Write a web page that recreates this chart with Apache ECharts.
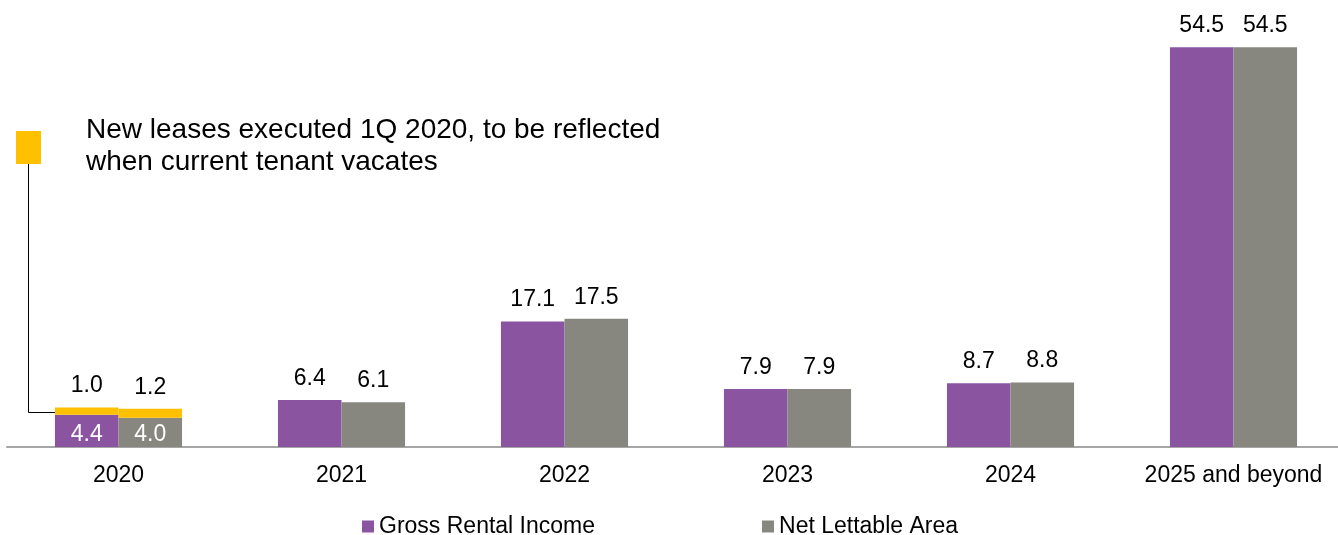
<!DOCTYPE html>
<html>
<head>
<meta charset="utf-8">
<script src="https://cdn.jsdelivr.net/npm/echarts@6/dist/echarts.min.js"></script>
<style>
html, body { margin: 0; padding: 0; background: #fff; }
#chart { width: 1338px; height: 535px; }
</style>
</head>
<body>
<div id="chart"></div>
<script>
var chart = echarts.init(document.getElementById('chart'));

var categories = ['2020', '2021', '2022', '2023', '2024', '2025 and beyond'];
var grossRental = [4.4, 6.4, 17.1, 7.9, 8.7, 54.5];
var netLettable = [4.0, 6.1, 17.5, 7.9, 8.8, 54.5];
// new leases executed 1Q 2020 (only 2020)
var newGross = [1.0, '-', '-', '-', '-', '-'];
var newNet = [1.2, '-', '-', '-', '-', '-'];

var PURPLE = '#8B54A1';
var GREY = '#878780';
var YELLOW = '#FFC000';
var FONT = 'Liberation Sans, Arial, sans-serif';

// base series: first item (2020) has its label inside, white
function baseData(arr) {
	return arr.map(function(v, i) {
		if(i === 0) {
			return {
				value: v,
				label: { position: 'insideBottom', distance: 1, color: '#fff' }
			};
		}
		return v;
	});
}

var topLabel = {
	show: true,
	position: 'top',
	distance: 10,
	color: '#000',
	fontSize: 23,
	fontFamily: FONT,
	formatter: function(p) { return p.value.toFixed(1); }
};

var option = {
	backgroundColor: '#fff',
	animation: false,
	grid: {
		left: 7,
		right: -7,
		top: 7,
		bottom: 88,
		outerBoundsMode: 'none'
	},
	legend: {
		data: ['Gross Rental Income', 'Net Lettable Area'],
		left: 357,
		top: 510,
		itemWidth: 12,
		itemHeight: 12,
		itemGap: 167,
		icon: 'rect',
		textStyle: { fontSize: 23, color: '#000', fontFamily: FONT }
	},
	xAxis: {
		type: 'category',
		data: categories,
		axisLine: { lineStyle: { color: '#A6A6A6', width: 2 } },
		axisTick: { show: false },
		axisLabel: { color: '#000', fontSize: 23, fontFamily: FONT, margin: 17, interval: 0 }
	},
	yAxis: {
		type: 'value',
		min: 0,
		max: 60,
		show: false
	},
	graphic: [
		{ type: 'rect', shape: { x: 16, y: 131, width: 25, height: 33 }, style: { fill: YELLOW } },
		{ type: 'polyline', shape: { points: [[28.5, 164], [28.5, 412.5], [55, 412.5]] }, style: { stroke: '#000', lineWidth: 1, fill: null } },
		{ type: 'text', left: 86, top: 114, style: {
			text: 'New leases executed 1Q 2020, to be reflected\nwhen current tenant vacates',
			fontSize: 28, lineHeight: 32, fill: '#000', fontFamily: FONT
		} }
	],
	series: [{
		name: 'Gross Rental Income',
		type: 'bar',
		stack: 'gri',
		barGap: '0%',
		barCategoryGap: '43%',
		itemStyle: { color: PURPLE },
		label: topLabel,
		data: baseData(grossRental)
	}, {
		name: 'New leases GRI',
		type: 'bar',
		stack: 'gri',
		itemStyle: { color: YELLOW },
		label: topLabel,
		data: newGross
	}, {
		name: 'Net Lettable Area',
		type: 'bar',
		stack: 'nla',
		itemStyle: { color: GREY },
		label: topLabel,
		data: baseData(netLettable)
	}, {
		name: 'New leases NLA',
		type: 'bar',
		stack: 'nla',
		itemStyle: { color: YELLOW },
		label: topLabel,
		data: newNet
	}]
};
chart.setOption(option);
</script>
</body>
</html>
